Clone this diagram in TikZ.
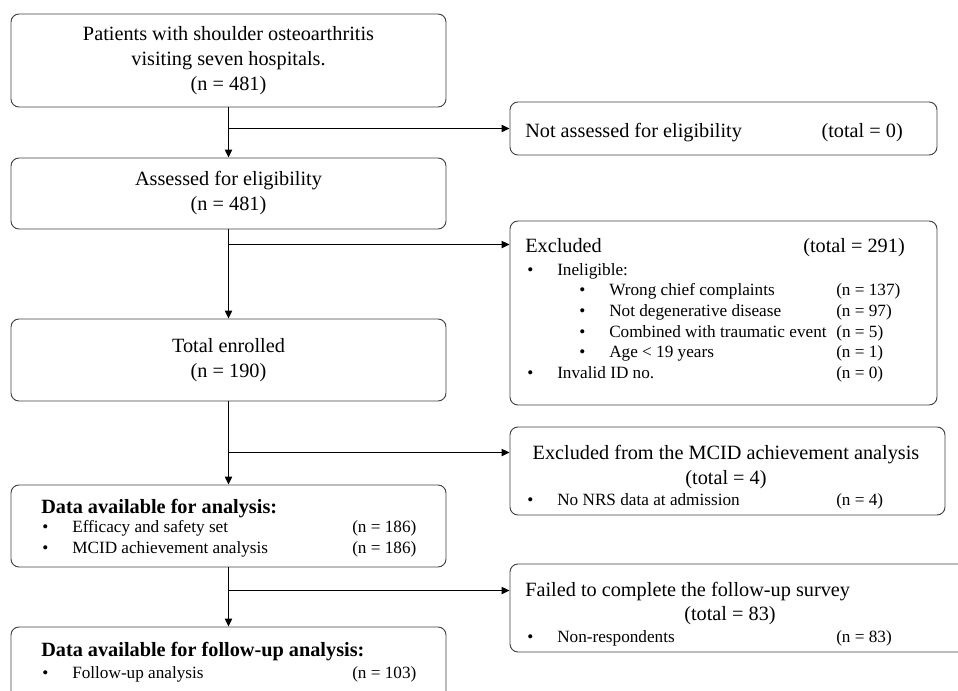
\documentclass[tikz,border=0pt]{standalone}
\usepackage{fontspec}
\setmainfont{Liberation Serif}
\usetikzlibrary{arrows.meta,positioning}

\newcommand{\bigtxt}{\fontsize{15.2}{18.75}\selectfont}
\newcommand{\smalltxt}{\fontsize{12.9}{15.5}\selectfont}
\newcommand{\bul}{\makebox[22.5pt][l]{\textbullet}}

\begin{document}
\begin{tikzpicture}[
  x=0.75pt, y=-0.75pt,
  box/.style={rectangle, draw=black!75, line width=0.7pt, rounded corners=6pt,
              inner sep=0pt, font=\bigtxt, align=center},
  head/.style={anchor=base west, inner sep=0pt, font=\bigtxt},
  item/.style={anchor=base west, inner sep=0pt, font=\smalltxt},
  arr/.style={-{Triangle[length=6pt,width=5.5pt]}, line width=0.9pt},
]
\useasboundingbox (0,0) rectangle (958,691);
\clip (0,0) rectangle (958,691);

% Main column (left)
\node[box, minimum width=326.25pt, minimum height=69.75pt] (pat) at (228.5,60.5)
  {Patients with shoulder osteoarthritis\\visiting seven hospitals.\\(n = 481)};
\node[box, minimum width=326.25pt, minimum height=53.25pt] (asd) at (228.5,193.5)
  {Assessed for eligibility\\(n = 481)};
\node[box, minimum width=326.25pt, minimum height=61.5pt] (enr) at (228.5,360)
  {Total enrolled\\(n = 190)};
\node[box, minimum width=326.25pt, minimum height=61.5pt] (ana) at (228.5,526) {};
\node[box, minimum width=326.25pt, minimum height=69pt] (fol) at (228.5,673) {};

% Side boxes (right)
\node[box, minimum width=320.25pt, minimum height=39.75pt] (na) at (723.5,128.5) {};
\node[box, minimum width=320.25pt, minimum height=138pt] (ex) at (723.5,313) {};
\node[box, minimum width=326.25pt, minimum height=66pt] (mcid) at (727.5,471) {};
\node[box, minimum width=360pt, minimum height=66pt] (fail) at (750,608) {};

% Texts of the side boxes
\node[head] (natxt) at (525,137.5) {Not assessed for eligibility};
\node[head, anchor=base east] (natot) at (903,137.5) {(total = 0)};

\node[head] (extxt) at (525,252.7) {Excluded};
\node[head, anchor=base east] (extot) at (905,252.7) {(total = 291)};
\node[item] (inel) at (527,275.5) {\bul Ineligible:};
\node[item] (wrong) at (579,295.7) {\bul\makebox[170.25pt][l]{Wrong chief complaints}(n = 137)};
\node[item] (degen) at (579,316.4) {\bul\makebox[170.25pt][l]{Not degenerative disease}(n = 97)};
\node[item] (trauma) at (579,337.4) {\bul\makebox[170.25pt][l]{Combined with traumatic event}(n = 5)};
\node[item] (age) at (579,357.7) {\bul\makebox[170.25pt][l]{Age < 19 years}(n = 1)};
\node[item] (invid) at (527,378.7) {\bul\makebox[209.25pt][l]{Invalid ID no.}(n = 0)};

\node[head, anchor=base] (mctxt) at (726,459.7) {Excluded from the MCID achievement analysis};
\node[head, anchor=base] (mctot) at (726,484.7) {(total = 4)};
\node[item] (nrs) at (527,505.7) {\bul\makebox[209.25pt][l]{No NRS data at admission}(n = 4)};

\node[head] (fatxt) at (525,596.7) {Failed to complete the follow-up survey};
\node[head, anchor=base] (fatot) at (730,620.7) {(total = 83)};
\node[item] (nonr) at (527,642.4) {\bul\makebox[209.25pt][l]{Non-respondents}(n = 83)};

% Texts of the lower left boxes
\node[head, font=\bigtxt\bfseries] (anatxt) at (41,513.7) {Data available for analysis:};
\node[item] (eff) at (42,532.7) {\bul\makebox[210pt][l]{Efficacy and safety set}(n = 186)};
\node[item] (mca) at (42,553.7) {\bul\makebox[210pt][l]{MCID achievement analysis}(n = 186)};
\node[head, font=\bigtxt\bfseries] (foltxt) at (41,656.7) {Data available for follow-up analysis:};
\node[item] (fup) at (42,678.7) {\bul\makebox[210pt][l]{Follow-up analysis}(n = 103)};

% Branch points
\coordinate (exin) at ([yshift=-18pt]ex.north west);
\coordinate (mcin) at ([yshift=-19.5pt]mcid.north west);
\coordinate (fain) at ([yshift=-20.25pt]fail.north west);

% Arrows
\draw[arr] (pat) -- (asd);
\draw[arr] (asd) -- (enr);
\draw[arr] (enr) -- (ana);
\draw[arr] (ana) -- (fol);
\draw[arr] (pat.south |- na.west) -- (na.west);
\draw[arr] (asd.south |- exin) -- (exin);
\draw[arr] (enr.south |- mcin) -- (mcin);
\draw[arr] (ana.south |- fain) -- (fain);

\end{tikzpicture}
\end{document}
